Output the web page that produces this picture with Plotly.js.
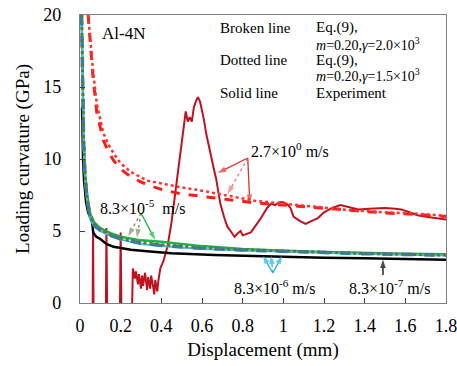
<!DOCTYPE html>
<html>
<head>
<meta charset="utf-8">
<script src="https://cdn.plot.ly/plotly-3.0.1.min.js"></script>
<style>html,body{margin:0;padding:0;background:#fff;}#plot{width:457px;height:366px;}</style>
</head>
<body>
<div id="plot"></div>
<script>
// Experiment, 2.7x10^0 m/s (dark red)
const expHighX = [0.055,0.062,0.064,0.067,0.12,0.127,0.13,0.134,0.19,0.196,0.2,0.204,0.255,0.26,0.27,0.275,0.285,0.29,0.3,0.305,0.31,0.32,0.33,0.335,0.345,0.35,0.36,0.365,0.37,0.38,0.385,0.395,0.41,0.43,0.45,0.46,0.47,0.49,0.505,0.52,0.53,0.54,0.55,0.56,0.57,0.58,0.59,0.6,0.61,0.62,0.64,0.66,0.67,0.69,0.71,0.725,0.74,0.76,0.78,0.79,0.8,0.82,0.84,0.87,0.89,0.92,0.94,0.96,0.98,1.0,1.02,1.035,1.05,1.08,1.11,1.14,1.17,1.2,1.24,1.28,1.32,1.37,1.42,1.5,1.55,1.58,1.62,1.66,1.72,1.8];
const expHighY = [-1,-1,5.3,-1,-1,-1,5.2,-1,-1,-1,4.9,-1,-1,2.4,1.7,2.2,1.3,2.0,1.0,1.9,1.2,2.1,0.9,1.8,1.0,1.9,1.1,0.6,1.6,0.8,1.5,2.4,2.9,3.9,5.6,6.7,8.0,9.9,11.5,13.3,12.6,12.9,12.6,13.6,14.0,14.3,14.0,13.4,12.7,11.8,10.4,9.2,8.6,6.9,5.9,5.3,5.0,4.6,4.9,5.0,4.7,4.8,4.9,5.5,5.9,6.6,6.9,6.8,7.0,7.0,6.85,6.6,6.0,5.7,5.5,5.7,5.9,6.3,6.6,6.8,6.65,6.5,6.55,6.6,6.55,6.5,6.3,6.1,5.95,5.8];

// Eq.(9) for 2.7x10^0 m/s
const modHighX = [0.04,0.05,0.065,0.083,0.1,0.115,0.14,0.165,0.2,0.25,0.33,0.41,0.49,0.58,0.66,0.76,0.86,1.0,1.17,1.33,1.5,1.66,1.8];
const brokenHighY = [20,18,15.5,13.2,12.2,11.3,10.5,9.9,9.3,8.75,8.2,7.85,7.6,7.45,7.3,7.1,6.95,6.8,6.6,6.4,6.25,6.15,6.0];
const dottedHighY = [20,18.3,16,13.8,12.7,11.8,11.0,10.4,9.7,9.1,8.5,8.25,8.05,7.85,7.65,7.35,7.1,6.9,6.65,6.45,6.3,6.2,6.05];

// Low velocity curves
const lowX = [0.008,0.012,0.018,0.025,0.035,0.05,0.07,0.1,0.15,0.2,0.3,0.4,0.6,0.8,1.0,1.2,1.4,1.6,1.8];
const brokenLowY = [20,15,11,8.7,7.2,5.9,5.4,5.05,4.7,4.45,4.15,4.0,3.8,3.68,3.58,3.5,3.42,3.37,3.32];
const dottedLowY = [20,15.3,11.3,8.9,7.3,6.0,5.5,5.1,4.75,4.5,4.2,4.05,3.83,3.7,3.6,3.52,3.44,3.38,3.33];
const green5Y = [20,15.5,11.5,9.0,7.5,6.2,5.6,5.2,4.85,4.6,4.35,4.25,3.95,3.75,3.62,3.55,3.47,3.42,3.38];
const cyan6Y = [20,14.8,10.8,8.5,7.0,5.8,5.3,5.0,4.65,4.4,4.1,3.95,3.75,3.64,3.55,3.47,3.4,3.35,3.3];
const black7X = [0.01,0.012,0.015,0.02,0.03,0.04,0.05,0.06,0.065,0.08,0.1,0.13,0.165,0.2,0.25,0.33,0.45,0.66,0.8,1.0,1.2,1.4,1.6,1.8];
const black7Y = [13.6,11.5,10,8.5,7,6.3,5.9,5.6,4.9,4.6,4.45,4.1,3.9,3.8,3.7,3.6,3.45,3.33,3.27,3.2,3.15,3.1,3.05,3.0];

const xTicks = [0,0.2,0.4,0.6,0.8,1,1.2,1.4,1.6,1.8];
const yTicks = [0,5,10,15,20];

// Arrow pointers: [tailX, tailY, tipX, tipY]
const arrows27 = [[0.825,10.07,0.677,9.03],[0.825,10.07,0.726,7.57],[0.825,10.07,0.835,6.94]];
const arrows83m5 = [[0.30,6.25,0.237,4.65],[0.30,6.25,0.28,4.55],[0.30,6.25,0.37,4.37]];
const arrows83m6 = [[0.948,2.08,0.9,3.3],[0.948,2.08,0.94,3.3],[0.948,2.08,0.995,3.3]];
const arrows83m7 = [[1.49,1.94,1.49,3.02]];

const serif = '"Liberation Serif", "DejaVu Serif", "Times New Roman", Times, serif';

const traces = [
  {x: expHighX, y: expHighY, mode:'lines', line:{color:'#C0111F', width:2}},
  {x: black7X, y: black7Y, mode:'lines', line:{color:'#000000', width:2.5}},
  {x: lowX, y: green5Y, mode:'lines', line:{color:'#22B04A', width:2.5}},
  {x: lowX, y: cyan6Y, mode:'lines', line:{color:'#3FB8E8', width:2}},
  {x: lowX, y: brokenLowY, mode:'lines', line:{color:'#2F7EC4', width:3.5, dash:'dash'}},
  {x: lowX, y: dottedLowY, mode:'lines', line:{color:'#5B7A38', width:3, dash:'dot'}},
  {x: modHighX, y: brokenHighY, mode:'lines', line:{color:'#FF1A1A', width:3, dash:'dash'}},
  {x: modHighX, y: dottedHighY, mode:'lines', line:{color:'#FF3030', width:2.5, dash:'dot'}}
];

function addArrows(list, colors, dashes) {
  list.forEach(function(a, i) {
    traces.push({x:[a[0], a[2]], y:[a[1], a[3]], mode:'lines+markers',
      line:{color:colors[i], width:1.3, dash:dashes[i]},
      marker:{symbol:['circle','arrow'], size:[0.1, 9], angleref:'previous', color:colors[i], line:{width:0}},
      cliponaxis:false});
  });
}
addArrows(arrows27, ['#E0302A','#F07070','#E0302A'], ['solid','dot','solid']);
addArrows(arrows83m5, ['#8A8A6A','#8A8A6A','#22B04A'], ['dot','dot','solid']);
addArrows(arrows83m6, ['#1CB0E8','#1CB0E8','#1CB0E8'], ['solid','dot','solid']);
addArrows(arrows83m7, ['#000000'], ['solid']);

function txt(x, y, text, size) {
  return {x:x, y:y, xref:'x', yref:'y', text:text, showarrow:false,
    xanchor:'left', yanchor:'middle', font:{family:serif, size:size, color:'#000'}};
}

const annotations = [
  txt(0.099, 18.75, 'Al-4N', 17),
  txt(0.68, 19.1, 'Broken line', 15),
  txt(1.15, 19.1, 'Eq.(9),', 15),
  txt(1.15, 18.0, '<i>m</i>=0.20,<i>γ</i>=2.0×10<sup>3</sup>', 14),
  txt(0.68, 16.87, 'Dotted line', 15),
  txt(1.15, 16.87, 'Eq.(9),', 15),
  txt(1.15, 15.8, '<i>m</i>=0.20,<i>γ</i>=1.5×10<sup>3</sup>', 14),
  txt(0.68, 14.58, 'Solid line', 15),
  txt(1.15, 14.58, 'Experiment', 15),
  txt(0.83, 10.6, '2.7×10<sup>0</sup> m/s', 16),
  txt(0.09, 6.67, '8.3×10<sup>-5</sup>  m/s', 16),
  txt(0.746, 1.11, '8.3×10<sup>-6</sup> m/s', 16),
  txt(1.314, 1.11, '8.3×10<sup>-7</sup> m/s', 16)
];

const layout = {
  width:457, height:366,
  margin:{l:80, r:11, t:15, b:63},
  paper_bgcolor:'#fff', plot_bgcolor:'#fff',
  showlegend:false,
  font:{family:serif, color:'#000'},
  xaxis:{range:[0,1.8], tickvals:xTicks, ticktext:xTicks.map(String), ticks:'inside', ticklen:5,
    tickcolor:'#404040', showgrid:false, zeroline:false, showline:true, mirror:true, linecolor:'#7F7F7F', linewidth:1.2,
    tickfont:{family:serif, size:18, color:'#000'}, ticklabelstandoff:6, ticklabeloverflow:'allow',
    title:{text:'Displacement (mm)', font:{family:serif, size:19, color:'#000'}, standoff:8}},
  yaxis:{range:[0,20], tickvals:yTicks, ticktext:yTicks.map(String), ticks:'inside', ticklen:5,
    tickcolor:'#404040', showgrid:false, zeroline:false, showline:true, mirror:true, linecolor:'#7F7F7F', linewidth:1.2,
    tickfont:{family:serif, size:18, color:'#000'}, ticklabelstandoff:14,
    title:{text:'Loading curvature (GPa)', font:{family:serif, size:19, color:'#000'}, standoff:8}},
  annotations: annotations
};

Plotly.newPlot('plot', traces, layout, {staticPlot:true, displayModeBar:false});
</script>
</body>
</html>
